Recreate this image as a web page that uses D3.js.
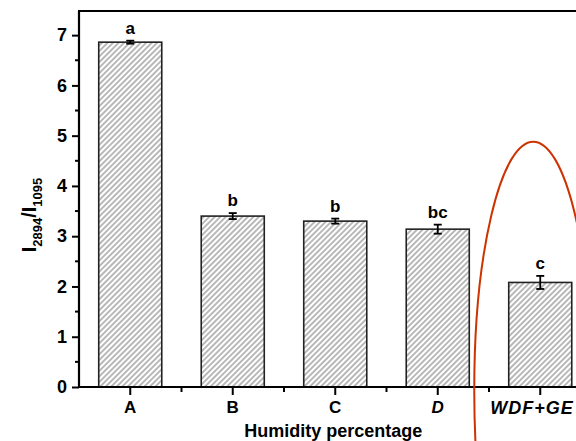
<!DOCTYPE html>
<html>
<head>
<meta charset="utf-8">
<script src="https://cdn.jsdelivr.net/npm/d3@7/dist/d3.min.js"></script>
<style>
  html, body { margin: 0; padding: 0; background: #fff; }
  svg { display: block; font-family: "Liberation Sans", Arial, sans-serif; }
</style>
</head>
<body>
<svg id="chart" width="576" height="441"></svg>
<script>
// ---- data ----
const categories = ["A", "B", "C", "D", "WDF+GE"];
const values = [6.86, 3.40, 3.30, 3.14, 2.08];
const errors = [0.03, 0.06, 0.05, 0.09, 0.13];
const letters = ["a", "b", "b", "bc", "c"];
const italicCats = ["D", "WDF+GE"];
const yTicks = [0, 1, 2, 3, 4, 5, 6, 7];
const yMinorTicks = [0.5, 1.5, 2.5, 3.5, 4.5, 5.5, 6.5];

// ---- layout ----
const svg = d3.select("#chart");
const mLeft = 79, mTop = 11, mBottom = 387, rightExt = 591.5;

const x = d3.scaleBand().domain(categories).range([mLeft, rightExt])
  .paddingInner(0.385).paddingOuter(0.1925);
const y = d3.scaleLinear().domain([0, 7.48]).range([mBottom, mTop]);

// hatch pattern
const defs = svg.append("defs");
const pat = defs.append("pattern")
  .attr("id", "hatch")
  .attr("patternUnits", "userSpaceOnUse")
  .attr("width", 3.9).attr("height", 3.9)
  .attr("patternTransform", "rotate(45)");
pat.append("rect").attr("width", 3.9).attr("height", 3.9).attr("fill", "#fff");
pat.append("line").attr("x1", 1).attr("y1", 0).attr("x2", 1).attr("y2", 3.9)
  .attr("stroke", "#8f8f8f").attr("stroke-width", 1.25);

// bars
svg.append("g").selectAll("rect").data(categories).join("rect")
  .attr("x", d => x(d))
  .attr("y", (d, i) => y(values[i]))
  .attr("width", x.bandwidth())
  .attr("height", (d, i) => y(0) - y(values[i]))
  .attr("fill", "url(#hatch)")
  .attr("stroke", "#222")
  .attr("stroke-width", 1.6);

// error bars
const eb = svg.append("g").attr("stroke", "#000").attr("stroke-width", 1.8);
categories.forEach((c, i) => {
  const cx = x(c) + x.bandwidth() / 2;
  const y1 = y(values[i] + errors[i]), y2 = y(values[i] - errors[i]);
  eb.append("line").attr("x1", cx).attr("x2", cx).attr("y1", y1).attr("y2", y2);
  eb.append("line").attr("x1", cx - 4).attr("x2", cx + 4).attr("y1", y1).attr("y2", y1);
  eb.append("line").attr("x1", cx - 4).attr("x2", cx + 4).attr("y1", y2).attr("y2", y2);
});

// significance letters
svg.append("g").selectAll("text").data(categories).join("text")
  .attr("x", d => x(d) + x.bandwidth() / 2)
  .attr("y", (d, i) => y(values[i] + errors[i]) - 7)
  .attr("text-anchor", "middle")
  .attr("font-size", 17).attr("font-weight", "bold")
  .text((d, i) => letters[i]);

// y axis
const yAxis = svg.append("g").attr("transform", `translate(${mLeft},0)`)
  .call(d3.axisLeft(y).tickValues(yTicks).tickSize(7).tickPadding(5).tickFormat(d3.format("d")));
yAxis.select(".domain").remove();
yAxis.selectAll(".tick line").attr("stroke", "#000").attr("stroke-width", 2);
yAxis.selectAll(".tick text").attr("font-size", 18).attr("font-weight", "bold")
  .attr("font-family", "'Liberation Sans', Arial, sans-serif").attr("fill", "#000");
svg.append("g").selectAll("line").data(yMinorTicks).join("line")
  .attr("x1", mLeft - 4).attr("x2", mLeft).attr("y1", d => y(d)).attr("y2", d => y(d))
  .attr("stroke", "#000").attr("stroke-width", 2);

// x axis
const xAxis = svg.append("g").attr("transform", `translate(0,${mBottom})`)
  .call(d3.axisBottom(x).tickSize(8).tickPadding(6));
xAxis.select(".domain").remove();
xAxis.selectAll(".tick line").attr("stroke", "#000").attr("stroke-width", 2);
xAxis.selectAll(".tick text").attr("font-size", 17).attr("font-weight", "bold")
  .attr("font-family", "'Liberation Sans', Arial, sans-serif").attr("fill", "#000")
  .attr("font-style", d => italicCats.includes(d) ? "italic" : "normal");
// last label is pushed left to fit inside the cropped figure
xAxis.selectAll(".tick text").filter(d => d === "WDF+GE")
  .attr("text-anchor", "start").attr("dx", -50).attr("font-size", 18)
  .attr("letter-spacing", 1);
svg.append("g").selectAll("line").data(categories.slice(0, -1)).join("line")
  .attr("x1", d => x(d) + x.bandwidth() / 2 + x.step() / 2)
  .attr("x2", d => x(d) + x.bandwidth() / 2 + x.step() / 2)
  .attr("y1", mBottom).attr("y2", mBottom + 5)
  .attr("stroke", "#000").attr("stroke-width", 2);

// frame lines
svg.append("line").attr("x1", mLeft).attr("x2", 576).attr("y1", mBottom).attr("y2", mBottom)
  .attr("stroke", "#000").attr("stroke-width", 2.2);
svg.append("line").attr("x1", mLeft).attr("x2", mLeft).attr("y1", mTop).attr("y2", mBottom + 1)
  .attr("stroke", "#000").attr("stroke-width", 2.2);
svg.append("line").attr("x1", mLeft - 1).attr("x2", 576).attr("y1", mTop).attr("y2", mTop)
  .attr("stroke", "#000").attr("stroke-width", 2.2);

// axis titles
svg.append("text")
  .attr("x", (mLeft + rightExt) / 2 - 2).attr("y", 437)
  .attr("text-anchor", "middle").attr("font-size", 18).attr("font-weight", "bold")
  .text("Humidity percentage");

const yt = svg.append("text")
  .attr("transform", `translate(36,${215}) rotate(-90)`)
  .attr("text-anchor", "middle").attr("font-weight", "bold").attr("font-size", 20);
yt.append("tspan").text("I");
yt.append("tspan").attr("font-size", 13).attr("dy", 6).text("2894");
yt.append("tspan").attr("dy", -6).text("/I");
yt.append("tspan").attr("font-size", 13).attr("dy", 6).text("1095");

// annotation ellipse around the last bar
const eCx = x("WDF+GE") + x.bandwidth() / 2 - 7;
svg.append("ellipse")
  .attr("cx", eCx).attr("cy", y(0) + 3)
  .attr("rx", 59).attr("ry", y(0) + 3 - y(4.88))
  .attr("fill", "none").attr("stroke", "#cc3300").attr("stroke-width", 2);
</script>
</body>
</html>
